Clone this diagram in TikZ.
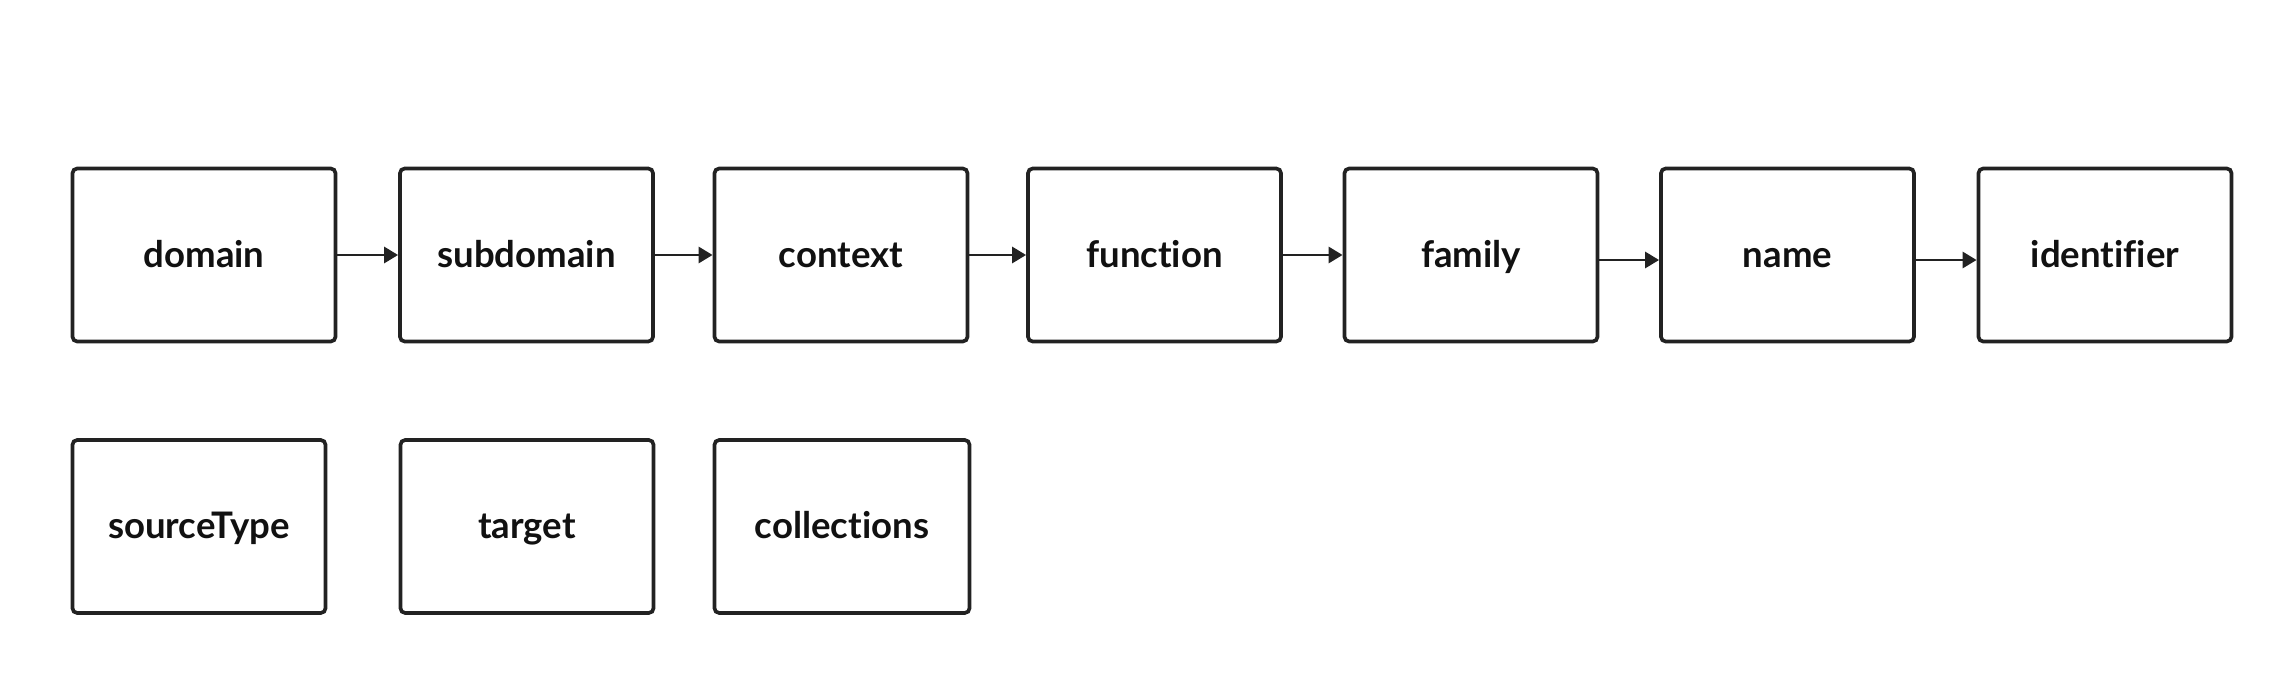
\documentclass[tikz,border=0pt]{standalone}
\usepackage{fontspec}
\setmainfont{Lato}[Ligatures=NoCommon]
\usetikzlibrary{arrows.meta}
\definecolor{linegray}{HTML}{222222}
\definecolor{textblack}{HTML}{111111}

\tikzstyle{field}=[rectangle, draw=linegray, fill=white, line width=1.05pt,
                   rounded corners=1.4pt, minimum height=1.73cm, inner sep=0pt,
                   text height=7.6pt, text depth=0.6pt,
                   text=textblack, font=\bfseries\fontsize{10.4}{12}\selectfont]
\tikzstyle{directed-edge} = [draw=linegray, line width=0.8pt,
                             -{Triangle[length=4pt, width=4.6pt]}]

\begin{document}
\begin{tikzpicture}[x=0.01cm, y=-0.01cm]
    \useasboundingbox (0,0) rectangle (2296,679);
    % First we draw the chain of fields
    \foreach \pos/\name/\boxw in {{(204,255)/domain/2.63}, {(526.5,255)/subdomain/2.53},
    	{(841,255)/context/2.53}, {(1154.5,255)/function/2.53}, {(1471,255)/family/2.53},
    	{(1787.5,255)/name/2.53}, {(2105,255)/identifier/2.53}}
      \node[field, minimum width=\boxw cm] (\name) at \pos {\name};
    % Then the loose fields below
    \foreach \pos/\name/\boxw in {{(199,526.5)/sourceType/2.53}, {(527,526.5)/target/2.53},
    	{(842,526.5)/collections/2.55}}
      \node[field, minimum width=\boxw cm] (\name) at \pos {\name};
    % Connect the chain
    \foreach \source/ \dest in {domain/subdomain, subdomain/context,
    							context/function, function/family}
      \path[directed-edge] (\source) -- (\dest);
    \foreach \source/ \dest in {family/name, name/identifier}
      \path[directed-edge] ([yshift=-0.05cm]\source.east) -- ([yshift=-0.05cm]\dest.west);
\end{tikzpicture}
\end{document}
